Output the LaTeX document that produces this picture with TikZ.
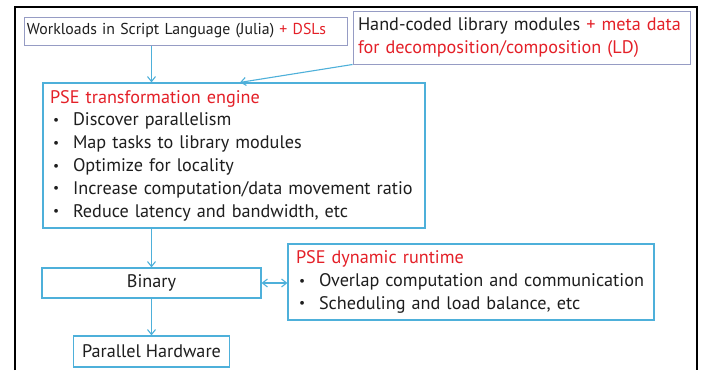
\documentclass[tikz,border=0pt]{standalone}
\usepackage{xcolor}
\usepackage{fontspec}
\setmainfont{PT Sans}
\usepackage{tikz}
\usetikzlibrary{arrows.meta, positioning, calc}
\definecolor{pseblue}{RGB}{78,176,218}
\definecolor{psegray}{RGB}{150,156,196}
\definecolor{psered}{RGB}{228,32,40}
\definecolor{psetext}{RGB}{30,30,30}
\newcommand{\pitem}{\hspace*{3pt}\makebox[20pt][l]{\raisebox{0.15ex}{\fontsize{13.5}{13.5}\selectfont\textbullet}}}
\tikzset{
    box_gray/.style={
        rectangle, draw=psegray, line width=1pt, align=left, text=psetext,
        font=\fontsize{18.2}{22.8}\selectfont
    },
    box_blue/.style={
        rectangle, draw=pseblue, line width=1.2pt, align=left, text=psetext,
        font=\fontsize{18.2}{22.8}\selectfont
    },
    box_center/.style={
        rectangle, draw=pseblue, line width=1.2pt, align=center, text=psetext,
        font=\fontsize{18.2}{22.8}\selectfont
    },
    arrow/.style={
        line width=1.1pt, -{Straight Barb[length=5pt, width=8pt]}, draw=pseblue
    },
    arrow_both/.style={
        line width=1.1pt, {Straight Barb[length=5pt, width=8pt]}-{Straight Barb[length=5pt, width=8pt]}, draw=pseblue
    }
}
\begin{document}
\begin{tikzpicture}[x=1pt, y=-1pt]
    \useasboundingbox[fill=white] (0,0) rectangle (701,370);
    \draw[line width=2pt, black] (14.5,370) -- (14.5,7) -- (696.5,7) -- (696.5,370);

    \node[box_gray, font=\fontsize{15.8}{20}\selectfont, inner xsep=3pt, text width=317pt, minimum height=28pt] (work) at (185.5, 31) {Workloads in Script Language (Julia) {\color{psered}+ DSLs}};
    \node[box_gray, inner xsep=5pt, text width=327pt, minimum height=53pt] (lib) at (521.5, 37.5) {Hand-coded library modules {\color{psered}+ meta data}\\{\color{psered}for decomposition/composition (LD)}};
    \node[box_blue, inner xsep=7pt, text width=368pt, minimum height=145pt] (engine) at (234, 155.5) {{\color{psered}PSE transformation engine}\\\pitem Discover parallelism\\\pitem Map tasks to library modules\\\pitem Optimize for locality\\\pitem Increase computation/data movement ratio\\\pitem Reduce latency and bandwidth, etc};
    \node[box_center, minimum width=219pt, minimum height=30pt] (binary) at (151.5, 283) {Binary};
    \node[box_blue, inner xsep=8pt, text width=350pt, minimum height=76pt] (runtime) at (471, 282) {{\color{psered}PSE dynamic runtime}\\\pitem Overlap computation and communication\\\pitem Scheduling and load balance, etc};
    \node[box_center, minimum width=156pt, minimum height=31pt] (hw) at (151.5, 351.5) {Parallel Hardware};

    \draw[arrow] (work.south -| binary) -- (engine.north -| binary);
    \draw[arrow] (lib.south west) -- ($(engine.north)+(6,0)$);
    \draw[arrow] (engine.south -| binary) -- (binary);
    \draw[arrow_both] (binary) -- (runtime.west |- binary);
    \draw[arrow] (binary) -- (hw);
\end{tikzpicture}
\end{document}
